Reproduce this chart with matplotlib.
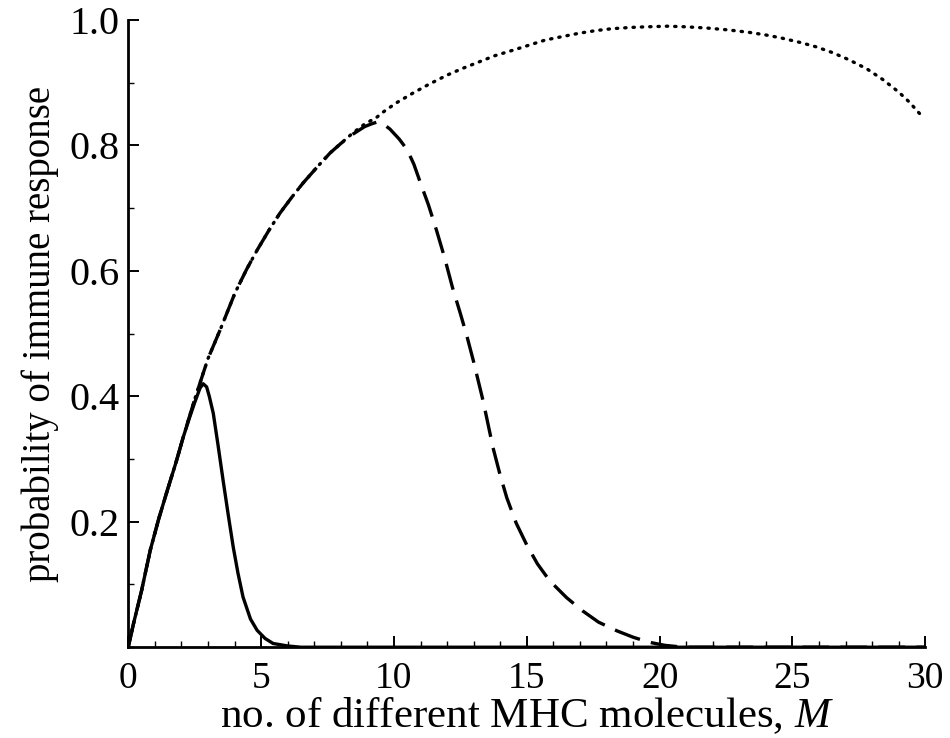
#!/usr/bin/env python3
"""Probability of immune response vs number of different MHC molecules."""
import matplotlib
matplotlib.use("Agg")
import matplotlib.pyplot as plt
from matplotlib.ticker import MultipleLocator

# valori (M, probabilità)
dotted_m = [0, 0.2, 0.5, 0.83, 1.15, 1.47, 1.8, 2.07, 2.5, 3.0, 3.46, 4.02, 4.45,
            4.85, 5.3, 5.71, 6.15, 6.58, 7.1, 7.6, 8.0, 8.46, 8.9, 9.36, 9.59,
            10.1, 10.7, 11.3, 12.0, 12.6, 13.2, 13.8, 14.5, 15.1, 15.7, 16.4,
            17.0, 17.6, 18.2, 18.9, 19.5, 20.3, 21.0, 21.8, 22.6, 23.4, 24.0,
            24.6, 25.3, 25.9, 26.5, 27.1, 27.8, 28.4, 29.0, 29.4, 29.8]
dotted_p = [0, 0.038, 0.09, 0.155, 0.205, 0.25, 0.295, 0.335, 0.395, 0.46, 0.506,
            0.565, 0.602, 0.633, 0.665, 0.692, 0.717, 0.740, 0.765, 0.788, 0.803,
            0.820, 0.834, 0.845, 0.853, 0.868, 0.883, 0.897, 0.912, 0.923, 0.933,
            0.943, 0.952, 0.960, 0.968, 0.974, 0.979, 0.983, 0.986, 0.988, 0.989,
            0.990, 0.989, 0.987, 0.984, 0.980, 0.976, 0.971, 0.964, 0.957, 0.948,
            0.937, 0.922, 0.905, 0.885, 0.869, 0.850]

dashed_m = [0, 0.2, 0.5, 0.83, 1.15, 1.47, 1.8, 2.07, 2.5, 3.0, 3.46, 4.02, 4.45,
            4.85, 5.3, 5.71, 6.15, 6.58, 7.1, 7.6, 8.0, 8.46, 8.9, 9.2, 9.36,
            9.6, 9.85, 10.2, 10.5, 10.75, 11.0, 11.3, 11.6, 11.9, 12.2, 12.5,
            12.74, 13.0, 13.36, 13.73, 14.0, 14.25, 14.6, 15.0, 15.4, 15.86,
            16.5, 17.1, 17.7, 18.4, 19.0, 19.6, 20.2, 20.9, 25.0, 30.0]
dashed_p = [0, 0.038, 0.09, 0.155, 0.205, 0.25, 0.295, 0.335, 0.395, 0.46, 0.506,
            0.565, 0.602, 0.633, 0.665, 0.692, 0.717, 0.740, 0.765, 0.788, 0.803,
            0.818, 0.830, 0.835, 0.837, 0.834, 0.826, 0.810, 0.793, 0.770, 0.740,
            0.705, 0.665, 0.622, 0.574, 0.532, 0.497, 0.455, 0.392, 0.318, 0.274,
            0.238, 0.198, 0.163, 0.133, 0.106, 0.079, 0.058, 0.040, 0.026, 0.016,
            0.008, 0.003, 0.0, 0.0, 0.0]

solid_m = [0, 0.2, 0.5, 0.83, 1.15, 1.47, 1.8, 2.07, 2.3, 2.5, 2.7, 2.82, 2.95,
           3.05, 3.2, 3.38, 3.57, 3.76, 3.95, 4.13, 4.32, 4.6, 4.85, 5.15, 5.45,
           6.0, 6.5, 10.0, 30.0]
solid_p = [0, 0.038, 0.09, 0.155, 0.205, 0.25, 0.295, 0.335, 0.365, 0.39, 0.413,
           0.42, 0.415, 0.40, 0.373, 0.322, 0.266, 0.212, 0.160, 0.118, 0.080,
           0.045, 0.027, 0.014, 0.006, 0.002, 0.0, 0.0, 0.0]

XTICKS = [0, 5, 10, 15, 20, 25, 30]
YTICKS = [0.2, 0.4, 0.6, 0.8, 1.0]


def main():
    plt.rcParams["font.family"] = ["Liberation Serif", "DejaVu Serif"]
    plt.rcParams["mathtext.fontset"] = "custom"
    plt.rcParams["mathtext.it"] = "Liberation Serif:italic"

    fig = plt.figure(figsize=(9.5, 7.38), dpi=100)
    ax = fig.add_axes([0.135, 0.123, 0.839, 0.85])

    ax.plot(dotted_m, dotted_p, color="black", linewidth=2.4,
            linestyle=(0, (0.4, 2.1)), dash_capstyle="round")
    ax.plot(dashed_m, dashed_p, color="black", linewidth=2.4,
            linestyle=(0, (8.0, 3.4)))
    ax.plot(solid_m, solid_p, color="black", linewidth=2.4,
            solid_joinstyle="round")

    ax.set_xlim(0, 30)
    ax.set_ylim(0, 1.0)
    for side in ("top", "right"):
        ax.spines[side].set_visible(False)
    for side in ("left", "bottom"):
        ax.spines[side].set_linewidth(2.0)

    ax.set_xticks(XTICKS)
    ax.set_xticklabels([str(t) for t in XTICKS])
    ax.set_yticks(YTICKS)
    ax.set_yticklabels([f"{t:.1f}" for t in YTICKS])
    ax.xaxis.set_minor_locator(MultipleLocator(1))
    ax.yaxis.set_minor_locator(MultipleLocator(0.1))
    ax.tick_params(which="major", direction="in", length=8, width=1.4)
    ax.tick_params(which="minor", direction="in", length=4, width=1.0)
    ax.tick_params(axis="y", which="major", pad=6, labelsize=29)
    ax.tick_params(axis="x", which="major", pad=10, labelsize=27)

    ax.set_xlabel("no. of different MHC molecules, $M$", fontsize=31, labelpad=0)
    ax.set_ylabel("probability of immune response", fontsize=28, labelpad=8)

    fig.savefig("out.png", dpi=100)


if __name__ == "__main__":
    main()
